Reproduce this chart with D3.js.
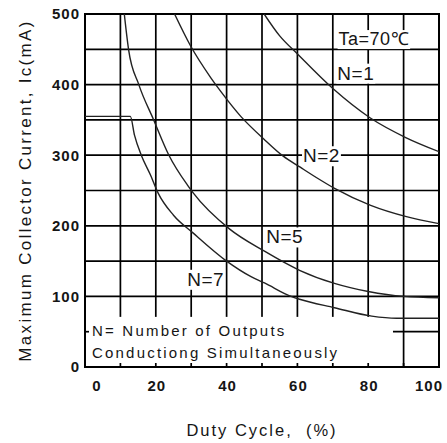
<!DOCTYPE html>
<html>
<head>
<meta charset="utf-8">
<script src="https://cdn.jsdelivr.net/npm/d3@7"></script>
<style>
  html, body { margin: 0; padding: 0; background: #fff; }
  svg { display: block; font-family: "Liberation Sans", Arial, sans-serif; }
  text { white-space: pre; fill: #151515; }
</style>
</head>
<body>
<svg id="chart" width="447" height="443"></svg>
<script>
// Maximum collector current vs duty cycle, Ta = 70 °C, by number of outputs on at once
const n1Duty    = [50.6, 55, 60.1, 70.1, 80.5, 90.6, 100];
const n1Current = [500, 469, 443, 394, 353, 325, 305];

const n2Duty    = [25.3, 29.8, 35.5, 38.4, 44, 50.5, 55.9, 60.8, 65.8, 70.5, 80.7, 90.8, 100];
const n2Current = [500, 455, 410, 390, 355, 323, 299, 283, 267, 253, 229, 213, 203];

const n5Duty    = [11.1, 12.3, 15.2, 19.4, 23.7, 28.9, 30.5, 40.7, 50.7, 60.6, 70.7, 80, 90, 100];
const n5Current = [500, 450, 400, 350, 300, 258, 247, 196, 164, 137, 118, 107, 100, 98];

const n7Duty    = [0, 12.8, 14, 15.9, 18.5, 20.7, 25, 30.5, 40, 46.9, 50.7, 58.2, 60.6, 70.5, 81, 88, 100];
const n7Current = [355, 355, 328, 300, 272, 246, 215, 190, 150, 128, 119, 100, 96, 84, 72, 69, 69];

const seriesNames = ["N=1", "N=2", "N=5", "N=7"];

const dutyTicks    = [0, 20, 40, 60, 80, 100];
const currentTicks = [0, 100, 200, 300, 400, 500];
const dutyGrid     = [10, 20, 30, 40, 50, 60, 70, 80, 90];
const currentGrid  = [50, 100, 150, 200, 250, 300, 350, 400, 450];

const xTitle = "Duty Cycle,  (%)";
const yTitle = "Maximum Collector Current, Ic(mA)";
const condition = "Ta=70\u2103";
const noteLines = ["N= Number of Outputs", "Conductiong Simultaneously"];

const svg = d3.select("#chart");
const x = d3.scaleLinear().domain([0, 100]).range([85, 439]);
const y = d3.scaleLinear().domain([0, 500]).range([367, 14]);

svg.append("defs").append("clipPath").attr("id", "plot-clip")
  .append("rect")
  .attr("x", x(0)).attr("y", y(500))
  .attr("width", x(100) - x(0)).attr("height", y(0) - y(500));

// grid
const grid = svg.append("g").attr("stroke", "#000").attr("stroke-width", 1.7);
grid.selectAll("line.v").data(dutyGrid).join("line")
  .attr("x1", d => x(d)).attr("x2", d => x(d))
  .attr("y1", y(500)).attr("y2", y(0));
grid.selectAll("line.h").data(currentGrid).join("line")
  .attr("x1", x(0)).attr("x2", x(100))
  .attr("y1", d => y(d)).attr("y2", d => y(d));

// note panel in the lower-left corner
const notePanel = svg.append("rect")
  .attr("x", x(0) + 1).attr("y", y(71))
  .attr("width", x(87) - x(0) - 1).attr("height", y(0) - y(71))
  .attr("fill", "#fff");

// frame
svg.append("rect")
  .attr("x", x(0)).attr("y", y(500))
  .attr("width", x(100) - x(0)).attr("height", y(0) - y(500))
  .attr("fill", "none").attr("stroke", "#000").attr("stroke-width", 2);

// inward ticks along the bottom and at 50 mA on the left
const ticks = svg.append("g").attr("stroke", "#000").attr("stroke-width", 1.7);
ticks.selectAll("line.b").data(dutyGrid).join("line")
  .attr("x1", d => x(d)).attr("x2", d => x(d))
  .attr("y1", y(0)).attr("y2", y(0) - 4);
ticks.append("line")
  .attr("x1", x(0)).attr("x2", x(0) + 4)
  .attr("y1", y(50)).attr("y2", y(50));

// curves
const line = d3.line()
  .x(d => x(d[0])).y(d => y(d[1]))
  .curve(d3.curveMonotoneX);
const series = [
  d3.zip(n1Duty, n1Current),
  d3.zip(n2Duty, n2Current),
  d3.zip(n5Duty, n5Current),
  d3.zip(n7Duty, n7Current)
];
svg.append("g").attr("clip-path", "url(#plot-clip)")
  .selectAll("path").data(series).join("path")
  .attr("d", line)
  .attr("fill", "none").attr("stroke", "#222").attr("stroke-width", 1.4);

// labels on the plot, each on a white patch
function boxedLabel(txt, cx, baseline, size) {
  const g = svg.append("g");
  const bg = g.append("rect").attr("fill", "#fff");
  const t = g.append("text")
    .attr("x", cx).attr("y", baseline)
    .attr("text-anchor", "middle")
    .attr("font-size", size)
    .attr("letter-spacing", 0.5)
    .text(txt);
  const b = t.node().getBBox();
  bg.attr("x", b.x - 1).attr("y", b.y + 1)
    .attr("width", b.width + 2).attr("height", b.height - 1);
  return g;
}
boxedLabel(condition, x(81.6), y(456), 18);
boxedLabel(seriesNames[0], x(76.5), y(407), 19);
boxedLabel(seriesNames[1], x(66.8), y(290), 19);
boxedLabel(seriesNames[2], x(56.4), y(175), 19);
boxedLabel(seriesNames[3], x(34.1), y(115), 19);

// note text
svg.append("g").selectAll("text").data(noteLines).join("text")
  .attr("x", x(0) + 7)
  .attr("y", (d, i) => y(44) + i * 22)
  .attr("font-size", 15)
  .attr("letter-spacing", 2.2)
  .text(d => d);

// tick labels
svg.append("g").selectAll("text").data(currentTicks).join("text")
  .attr("x", x(0) - 5)
  .attr("y", d => y(d))
  .attr("dy", "0.36em")
  .attr("text-anchor", "end")
  .attr("font-size", 15).attr("font-weight", "bold")
  .attr("letter-spacing", 1)
  .text(d => d);

svg.append("g").selectAll("text").data(dutyTicks).join("text")
  .attr("x", d => x(d))
  .attr("dx", (d, i) => i === 0 ? 12 : (i === dutyTicks.length - 1 ? -10 : 1))
  .attr("y", y(0) + 24)
  .attr("text-anchor", "middle")
  .attr("font-size", 15).attr("font-weight", "bold")
  .attr("letter-spacing", 1)
  .text(d => d);

// axis titles
svg.append("text")
  .attr("x", (x(0) + x(100)) / 2).attr("y", 436)
  .attr("text-anchor", "middle")
  .attr("font-size", 16.5)
  .attr("letter-spacing", 2)
  .text(xTitle);

svg.append("text")
  .attr("transform", `translate(31,${(y(0) + y(500)) / 2}) rotate(-90)`)
  .attr("text-anchor", "middle")
  .attr("font-size", 17)
  .attr("letter-spacing", 2.3)
  .text(yTitle);
</script>
</body>
</html>
